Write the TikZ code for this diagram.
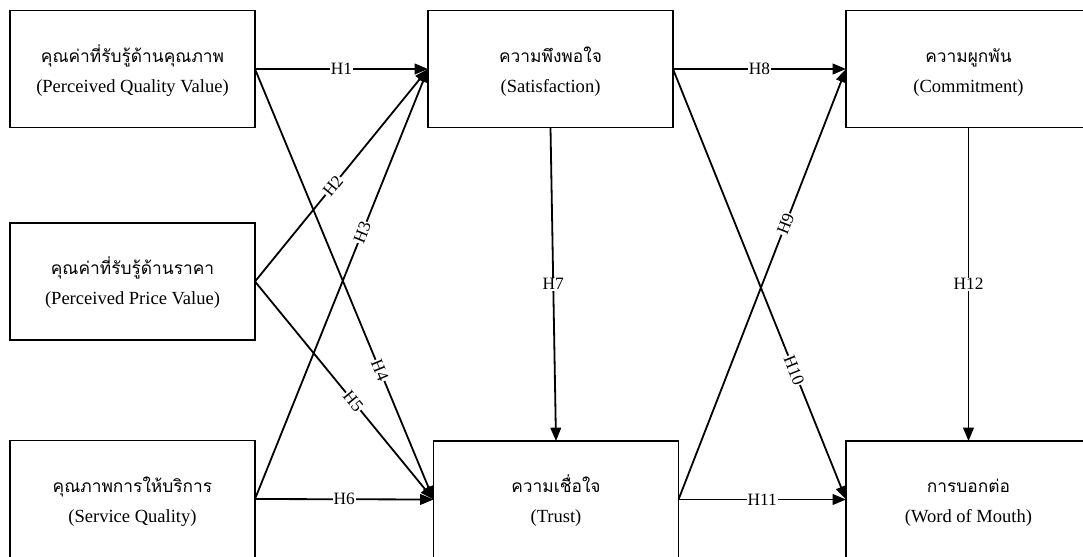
\documentclass[tikz,border=0pt]{standalone}
\usepackage{fontspec}
\setmainfont{Liberation Serif}
\newfontfamily\thai[Script=Thai]{Loma}
\usetikzlibrary{arrows.meta}
\tikzset{
  box/.style={draw, line width=1pt, outer sep=0pt, minimum width=183.75pt, minimum height=87.75pt,
    align=center, font={\fontsize{13.9}{22.5}\selectfont}},
  link/.style={line width=1.35pt, -{Triangle[length=10pt,width=8pt]}},
  hl/.style={fill=white, inner sep=0.6pt, font={\fontsize{13}{14}\selectfont}},
}
\newcommand{\thtxt}[1]{{\thai\fontsize{13}{22.5}\selectfont\rule{0pt}{15pt}#1}}
\begin{document}
\begin{tikzpicture}[x=0.75pt,y=-0.75pt]
\useasboundingbox (0,0) rectangle (1083,557);
\node[box] (pqv) at (132.5,69) {\thtxt{คุณค่าที่รับรู้ด้านคุณภาพ}\\(Perceived Quality Value)};
\node[box] (ppv) at (132.5,281.5) {\thtxt{คุณค่าที่รับรู้ด้านราคา}\\(Perceived Price Value)};
\node[box] (sq) at (132.5,499) {\thtxt{คุณภาพการให้บริการ}\\(Service Quality)};
\node[box] (sat) at (550.5,69) {\thtxt{ความพึงพอใจ}\\(Satisfaction)};
\node[box] (tru) at (556,499.5) {\thtxt{ความเชื่อใจ}\\(Trust)};
\node[box] (com) at (968.5,69) {\thtxt{ความผูกพัน}\\(Commitment)};
\node[box] (wom) at (968.5,499.5) {\thtxt{การบอกต่อ}\\(Word of Mouth)};

\draw[link] (pqv.east) -- node[hl] (h1) {H1} (sat.west);
\draw[link] (ppv.east) -- node[hl, sloped, pos=0.45] (h2) {H2} (sat.west);
\draw[link] (sq.east) -- node[hl, sloped, pos=0.62] (h3) {H3} (sat.west);
\draw[link] (pqv.east) -- node[hl, sloped, pos=0.70] (h4) {H4} (tru.west);
\draw[link] (ppv.east) -- node[hl, sloped, pos=0.55] (h5) {H5} (tru.west);
\draw[link] (sq.east) -- node[hl] (h6) {H6} (tru.west);
\draw[link] (sat.south) -- node[hl] (h7) {H7} (tru.north);
\draw[link] (sat.east) -- node[hl] (h8) {H8} (com.west);
\draw[link] (tru.east) -- node[hl, sloped, pos=0.64] (h9) {H9} (com.west);
\draw[link] (sat.east) -- node[hl, sloped, pos=0.70] (h10) {H10} (wom.west);
\draw[link] (tru.east) -- node[hl] (h11) {H11} (wom.west);
\draw[link] (com.south) -- node[hl] (h12) {H12} (wom.north);
\end{tikzpicture}
\end{document}
